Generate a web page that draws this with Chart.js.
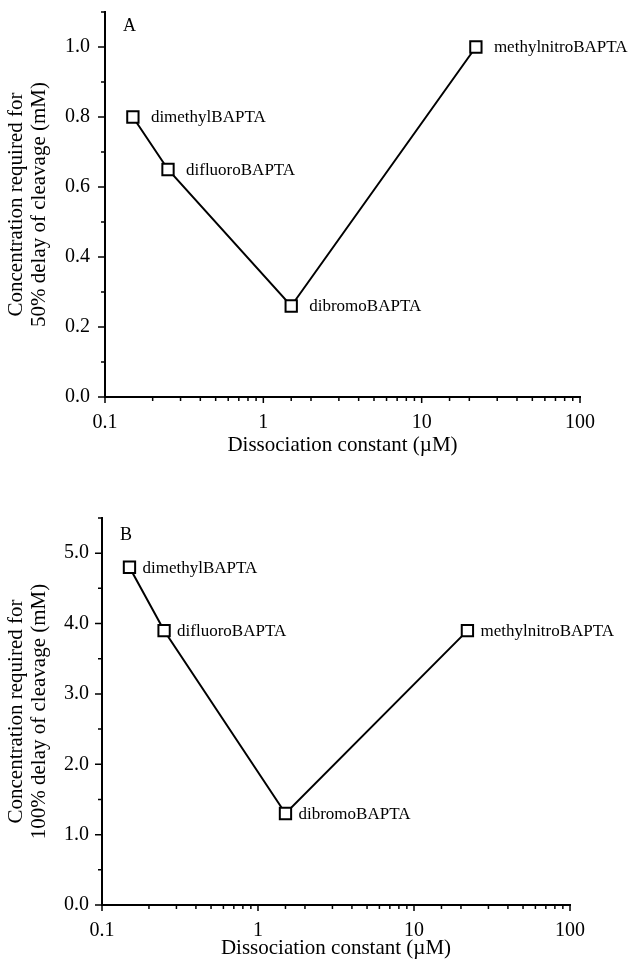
<!DOCTYPE html>
<html>
<head>
<meta charset="utf-8">
<title>BAPTA buffers and delay of cleavage</title>
<script src="https://cdn.jsdelivr.net/npm/chart.js@4.4.1/dist/chart.umd.min.js"></script>
<style>
  body { margin: 0; background: #fff; }
  canvas { display: block; }
</style>
</head>
<body>
<canvas id="chartA" width="632" height="470"></canvas>
<canvas id="chartB" width="632" height="489"></canvas>
<script>
// Values
const buffers = ['dimethylBAPTA', 'difluoroBAPTA', 'dibromoBAPTA', 'methylnitroBAPTA'];
const kdValues = [0.15, 0.25, 1.5, 22];        // dissociation constant (uM)
const conc50 = [0.80, 0.65, 0.26, 1.00];        // panel A, mM
const conc100 = [4.8, 3.9, 1.3, 3.9];           // panel B, mM
const xTickLabels = ['0.1', '1', '10', '100'];
const yTickLabelsA = ['0.0', '0.2', '0.4', '0.6', '0.8', '1.0'];
const yTickLabelsB = ['0.0', '1.0', '2.0', '3.0', '4.0', '5.0'];

const SERIF = "'Liberation Serif', 'Times New Roman', serif";
Chart.defaults.font.family = SERIF;
Chart.defaults.color = '#000';

// 1. Tick marks outside the axes: long where labelled, short otherwise
const tickMarks = {
    id: 'tickMarks',
    afterDraw(chart) {
        const ctx = chart.ctx;
        const xs = chart.scales.x;
        const ys = chart.scales.y;
        ctx.save();
        ctx.strokeStyle = '#000';
        ctx.lineWidth = 1.5;
        ctx.beginPath();
        xs.ticks.forEach(t => {
            const px = xs.getPixelForValue(t.value);
            const len = t.label ? 6 : 4;
            ctx.moveTo(px, xs.top);
            ctx.lineTo(px, xs.top + len);
        });
        ys.ticks.forEach(t => {
            const py = ys.getPixelForValue(t.value);
            const len = t.label ? 7 : 4;
            ctx.moveTo(ys.right - len, py);
            ctx.lineTo(ys.right, py);
        });
        ctx.stroke();
        ctx.restore();
    }
};

// 2. Buffer names beside the points + panel letter
const pointNames = {
    id: 'pointNames',
    afterDatasetsDraw(chart, args, opts) {
        const ctx = chart.ctx;
        const meta = chart.getDatasetMeta(0);
        ctx.save();
        ctx.fillStyle = '#000';
        ctx.textAlign = 'left';
        ctx.textBaseline = 'middle';
        ctx.font = '17px ' + SERIF;
        meta.data.forEach((pt, i) => {
            ctx.fillText(buffers[i], pt.x + opts.gap, pt.y + 1);
        });
        ctx.font = '18px ' + SERIF;
        ctx.fillText(opts.letter, chart.chartArea.left + 18, chart.chartArea.top + opts.letterDy);
        ctx.restore();
    }
};

// fixed axis boxes so the plot area lands where the figure has it
function fixBox(s, size) {
    if (s.isHorizontal()) s.height = size; else s.width = size;
    s.paddingTop = 0;
    s.paddingBottom = 0;
    s.paddingLeft = 0;
    s.paddingRight = 0;
}

function makePanel(id, values, yMax, yStep, yLabels, cfg) {
    return new Chart(document.getElementById(id), {
        type: 'line',
        data: {
            datasets: [{
                data: kdValues.map((x, i) => ({ x: x, y: values[i] })),
                borderColor: '#000',
                borderWidth: 2,
                tension: 0,
                pointStyle: 'rect',
                pointRadius: 8,
                pointBackgroundColor: '#fff',
                pointBorderColor: '#000',
                pointBorderWidth: 2
            }]
        },
        options: {
            responsive: false,
            animation: false,
            layout: { padding: { top: cfg.padTop, right: cfg.padRight, left: 0, bottom: 0 } },
            plugins: {
                legend: { display: false },
                tooltip: { enabled: false },
                pointNames: { gap: cfg.gap, letter: cfg.letter, letterDy: cfg.letterDy }
            },
            scales: {
                x: {
                    type: 'logarithmic',
                    position: 'bottom',
                    min: 0.1,
                    max: 100,
                    grid: { display: false, drawTicks: false },
                    border: { color: '#000', width: 2 },
                    ticks: {
                        autoSkip: false,
                        maxRotation: 0,
                        padding: 14,
                        font: { size: 20 },
                        callback: v => xTickLabels.find(l => Math.abs(parseFloat(l) - v) < 1e-9) || ''
                    },
                    title: {
                        display: true,
                        text: 'Dissociation constant (\u00b5M)',
                        font: { size: 21, lineHeight: 1 },
                        padding: { top: 0, bottom: cfg.xTitlePad }
                    },
                    afterFit: s => fixBox(s, cfg.xHeight)
                },
                y: {
                    min: 0,
                    max: yMax,
                    grid: { display: false, drawTicks: false },
                    border: { color: '#000', width: 2 },
                    ticks: {
                        stepSize: yStep,
                        autoSkip: false,
                        padding: cfg.yTickPad,
                        font: { size: 20 },
                        callback: v => {
                            const s = v.toFixed(1);
                            return yLabels.includes(s) ? s : '';
                        }
                    },
                    title: {
                        display: true,
                        text: cfg.yTitle,
                        font: { size: 21, lineHeight: 1.1 },
                        padding: { top: 5, bottom: 0 }
                    },
                    afterFit: s => fixBox(s, cfg.yWidth)
                }
            }
        },
        plugins: [tickMarks, pointNames]
    });
}

makePanel('chartA', conc50, 1.1, 0.1, yTickLabelsA, {
    padTop: 12, padRight: 52, yWidth: 105, xHeight: 73,
    yTickPad: 15, xTitlePad: 14, gap: 18, letter: 'A', letterDy: 14,
    yTitle: ['Concentration required for', '50% delay of cleavage (mM)']
});

makePanel('chartB', conc100, 5.5, 0.5, yTickLabelsB, {
    padTop: 48, padRight: 62, yWidth: 102, xHeight: 54,
    yTickPad: 13, xTitlePad: 0, gap: 13, letter: 'B', letterDy: 17,
    yTitle: ['Concentration required for', '100% delay of cleavage (mM)']
});
</script>
</body>
</html>
